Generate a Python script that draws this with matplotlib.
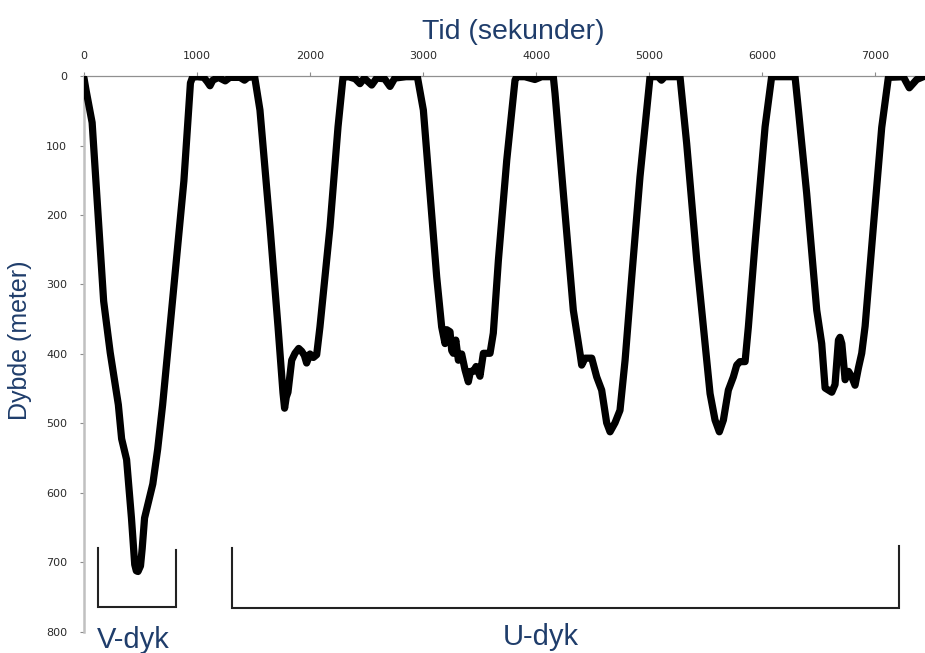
"""Dive profile: depth against time for one V-shaped and five U-shaped dives."""

import numpy as np

import matplotlib
matplotlib.use("Agg")
import matplotlib.pyplot as plt

# time since tag-on (s) and depth (m), read along the track
time_s = [
    0, 20, 72, 174, 232, 304, 333, 377, 420, 449, 463, 478, 500, 515, 536,
    609, 652, 696, 783, 884, 942, 960,
    1000, 1060, 1090, 1115, 1140, 1190, 1250, 1290, 1380, 1420, 1450, 1510,
    1557, 1646, 1717, 1761, 1775, 1790, 1805, 1838, 1867, 1900, 1926, 1950,
    1970, 2000, 2030, 2059, 2088, 2177, 2248, 2292,
    2340, 2400, 2442, 2480, 2546, 2590, 2660, 2708, 2750, 2850, 2950,
    3003, 3062, 3121, 3165, 3195, 3210, 3239, 3254, 3268, 3290, 3313, 3342,
    3372, 3401, 3420, 3445, 3470, 3504, 3534, 3593, 3622, 3667, 3741, 3814,
    3829,
    3900, 3990, 4050, 4153,
    4168, 4242, 4330, 4389, 4404, 4434, 4493, 4537, 4581, 4625, 4655, 4699,
    4743, 4788, 4847, 4920, 5009,
    5080, 5110, 5140, 5274,
    5333, 5422, 5496, 5540, 5584, 5622, 5658, 5702, 5746, 5776, 5805, 5850,
    5879, 5938, 6027, 6085,
    6200, 6292,
    6322, 6395, 6484, 6528, 6558, 6617, 6646, 6676, 6690, 6706, 6735, 6765,
    6794, 6823, 6853, 6882, 6912, 6985, 7059, 7118,
    7250, 7303, 7369, 7442,
]
depth_m = [
    3, 22, 67, 324, 398, 473, 522, 552, 636, 703, 712, 713, 705, 680, 636,
    587, 537, 473, 324, 151, 10, 2,
    1, 2, 8, 14, 6, 2, 7, 2, 2, 6, 2, 1,
    49, 217, 361, 456, 478, 462, 455, 409, 399, 392, 396, 402,
    413, 400, 405, 401, 361, 217, 73, 2,
    1, 4, 11, 3, 13, 3, 4, 15, 3, 1, 1,
    49, 169, 289, 361, 385, 365, 368, 395, 399, 380, 409, 400,
    423, 440, 425, 425, 418, 432, 399, 399, 370, 265, 121, 6,
    1,
    1, 5, 1, 1,
    25, 169, 337, 399, 416, 406, 406, 433, 452, 499, 512, 499,
    481, 409, 289, 145, 1,
    1, 6, 1, 1,
    97, 265, 385, 457, 495, 512, 495, 452, 433, 416, 411, 411,
    361, 241, 73, 1,
    1, 1,
    49, 169, 337, 385, 449, 455, 444, 380, 376, 385, 437, 425,
    433, 445, 420, 399, 360, 217, 74, 2,
    1, 17, 5, 0,
]

x_ticks = [0, 1000, 2000, 3000, 4000, 5000, 6000, 7000]
y_ticks = [0, 100, 200, 300, 400, 500, 600, 700, 800]

# dive-type brackets: (t_left, t_right, top_left, top_right, bottom)
brackets = {
    "V-dyk": (127, 815, 679, 682, 764),
    "U-dyk": (1313, 7212, 679, 676, 765),
}
bracket_label_pos = {"V-dyk": (112, 823), "U-dyk": (3708, 819)}

LABEL_COLOR = "#1f3d6b"

fig = plt.figure(figsize=(9.25, 6.53), dpi=100)
ax = fig.add_axes([0.0908, 0.0322, 0.9092, 0.8514])

ax.plot(time_s, depth_m, color="black", lw=5.2,
        solid_joinstyle="round", solid_capstyle="round", zorder=3)

ax.set_xlim(0, 7442)
ax.set_ylim(800, 0)

ax.xaxis.tick_top()
ax.set_xticks(x_ticks)
ax.set_yticks(y_ticks)
ax.tick_params(axis="x", direction="out", length=3, width=0.8,
               color="#8c8c8c", pad=8, labelsize=8, labelcolor="#2a2a2a")
ax.tick_params(axis="y", direction="out", length=3, width=0.8,
               color="#8c8c8c", pad=9, labelsize=8, labelcolor="#2a2a2a")

for side in ("right", "bottom"):
    ax.spines[side].set_visible(False)
ax.spines["left"].set_color("#c0c0c0")
ax.spines["left"].set_linewidth(1.8)
ax.spines["top"].set_color("#909090")
ax.spines["top"].set_linewidth(0.9)

ax.xaxis.set_label_position("top")
ax.set_xlabel("Tid (sekunder)", family="Liberation Sans", fontsize=20.5,
              color=LABEL_COLOR, va="center")
ax.xaxis.set_label_coords(0.51, 1.079)
ax.set_ylabel("Dybde (meter)", family="Liberation Sans", fontsize=18,
              color=LABEL_COLOR, va="center")
ax.yaxis.set_label_coords(-0.076, 0.525)

for name, (t0, t1, top0, top1, bot) in brackets.items():
    ax.plot([t0, t0, t1, t1], [top0, bot, bot, top1], color="#222222",
            lw=1.5, solid_joinstyle="miter", clip_on=False)
    tx, ty = bracket_label_pos[name]
    ax.text(tx, ty, name, family="Liberation Sans", fontsize=21,
            color=LABEL_COLOR, ha="left", va="baseline", clip_on=False)

fig.savefig("out.png", dpi=100)
